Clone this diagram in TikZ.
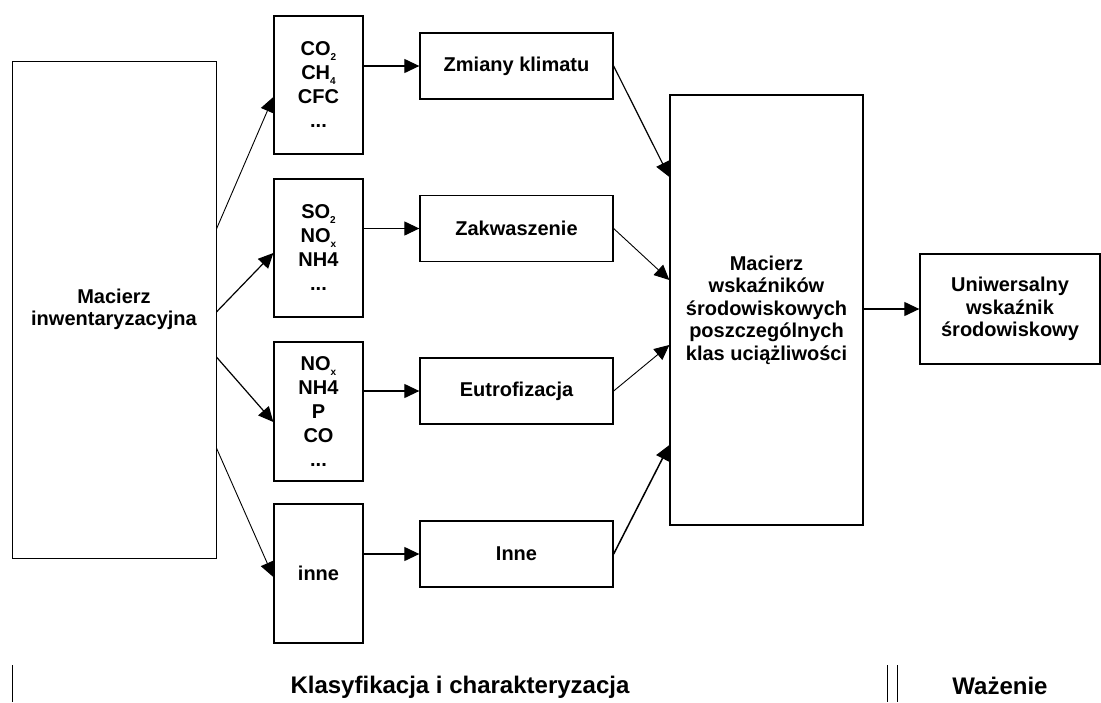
\documentclass[tikz,border=0pt]{standalone}
\usepackage{fontspec}
\setmainfont{Liberation Sans}
\usetikzlibrary{arrows.meta}
\newcommand{\ind}[1]{\raisebox{-0.45ex}{\fontsize{10}{10}\selectfont #1}}

\begin{document}
\begin{tikzpicture}[x=1pt,y=-1pt,
    box/.style={draw,line width=1.3pt,inner sep=0pt,align=center,
      font=\fontsize{20}{22.5}\selectfont\bfseries},
    subst/.style={box,minimum width=89pt,minimum height=138pt,
      font=\fontsize{20}{24}\selectfont\bfseries},
    effect/.style={box,minimum width=193pt,minimum height=66pt},
    arr/.style={-{Triangle[length=15pt,width=14pt]},line width=1.2pt},
    label/.style={anchor=base,font=\fontsize{24}{24}\selectfont\bfseries}]
  \useasboundingbox (0,0) rectangle (1101,702);
  \node[box,minimum width=204pt,minimum height=497pt,line width=0.9pt] (inv) at (114,309.5) {Macierz\\inwentaryzacyjna};
  \node[subst] (s1) at (318.5,85) {CO\ind{2}\\CH\ind{4}\\CFC\\...};
  \node[subst] (s2) at (318.5,248) {SO\ind{2}\\NO\ind{x}\\NH4\\...};
  \node[subst,minimum height=139pt] (s3) at (318.5,411.5) {NO\ind{x}\\NH4\\P\\CO\\...};
  \node[subst,minimum height=139pt] (s4) at (318.5,573.5) {inne};
  \node[effect] (e1) at (516.5,66) {Zmiany klimatu};
  \node[effect] (e2) at (516.5,228.5) {Zakwaszenie};
  \node[effect] (e3) at (516.5,391) {Eutrofizacja};
  \node[effect] (e4) at (516.5,554) {Inne};
  \node[box,minimum width=193pt,minimum height=430pt] (mat) at (766.5,310) {Macierz\\wskaźników\\środowiskowych\\poszczególnych\\klas uciążliwości};
  \node[box,minimum width=180pt,minimum height=110pt] (uni) at (1010,309) {Uniwersalny\\wskaźnik\\środowiskowy};
  \draw[arr,line width=0.9pt] ([yshift=80.5pt]inv.east) -- ([yshift=-12pt]s1.west);
  \draw[arr] ([yshift=-2.5pt]inv.east) -- ([yshift=-5pt]s2.west);
  \draw[arr] ([yshift=-47.5pt]inv.east) -- ([yshift=-10.5pt]s3.west);
  \draw[arr,line width=0.9pt] ([yshift=-138.5pt]inv.east) -- ([yshift=-3.5pt]s4.west);
  \foreach \i in {1,...,4}
    \draw[arr] (e\i.west -| s\i.east) -- (e\i.west);
  \draw[arr] (e1.east) -- ([yshift=133pt]mat.west);
  \draw[arr,line width=0.9pt] (e2.east) -- ([yshift=30pt]mat.west);
  \draw[arr,line width=0.9pt] (e3.east) -- ([yshift=-35pt]mat.west);
  \draw[arr,line width=1.5pt] (e4.east) -- ([yshift=-135pt]mat.west);
  \draw[arr] (mat.east |- uni.west) -- (uni.west);
  \draw[line width=1pt] (12,665) -- (12,702) (887,665) -- (887,702) (897,665) -- (897,702);
  \node[label] (klas) at (460,693) {Klasyfikacja i charakteryzacja};
  \node[label] (waz) at (1000,694) {Ważenie};
\end{tikzpicture}
\end{document}
